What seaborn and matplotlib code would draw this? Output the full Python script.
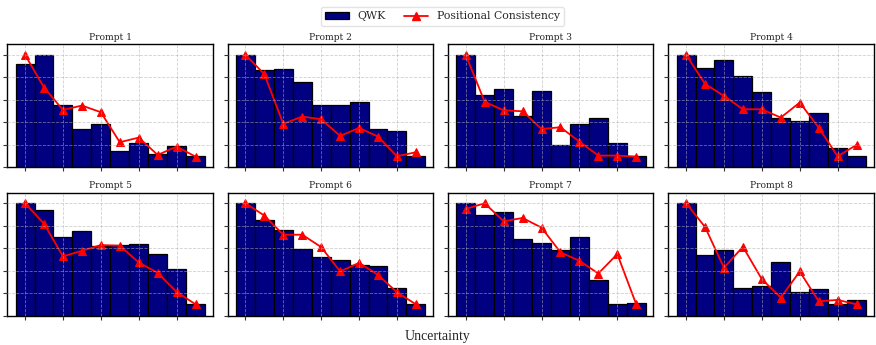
import numpy as np
import pandas as pd
import matplotlib
matplotlib.use("Agg")
import matplotlib.pyplot as plt
from matplotlib.patches import Patch
from matplotlib.lines import Line2D
import seaborn as sns

# Normalised scores per uncertainty bin (10 bins) for each prompt
bins = list(range(10))
prompts = ["Prompt 1", "Prompt 2", "Prompt 3", "Prompt 4",
           "Prompt 5", "Prompt 6", "Prompt 7", "Prompt 8"]

qwk_p1 = [0.917, 1.0, 0.558, 0.338, 0.383, 0.145, 0.217, 0.119, 0.187, 0.098]
qwk_p2 = [1.0, 0.864, 0.878, 0.757, 0.552, 0.558, 0.585, 0.341, 0.323, 0.098]
qwk_p3 = [1.0, 0.647, 0.694, 0.460, 0.682, 0.196, 0.386, 0.436, 0.220, 0.098]
qwk_p4 = [1.0, 0.881, 0.953, 0.816, 0.671, 0.442, 0.412, 0.487, 0.169, 0.098]
qwk_p5 = [1.0, 0.940, 0.702, 0.756, 0.616, 0.631, 0.637, 0.548, 0.411, 0.101]
qwk_p6 = [1.0, 0.848, 0.765, 0.592, 0.521, 0.497, 0.452, 0.443, 0.244, 0.101]
qwk_p7 = [1.0, 0.893, 0.926, 0.679, 0.649, 0.586, 0.696, 0.315, 0.101, 0.110]
qwk_p8 = [1.0, 0.539, 0.586, 0.244, 0.265, 0.479, 0.214, 0.235, 0.101, 0.140]

pc_p1 = [1.0, 0.709, 0.510, 0.549, 0.490, 0.223, 0.264, 0.110, 0.184, 0.095]
pc_p2 = [1.0, 0.828, 0.386, 0.451, 0.427, 0.279, 0.350, 0.273, 0.098, 0.134]
pc_p3 = [1.0, 0.582, 0.507, 0.498, 0.341, 0.356, 0.228, 0.104, 0.104, 0.095]
pc_p4 = [1.0, 0.742, 0.635, 0.516, 0.516, 0.442, 0.576, 0.353, 0.098, 0.199]
pc_p5 = [1.0, 0.818, 0.527, 0.577, 0.628, 0.622, 0.473, 0.381, 0.211, 0.101]
pc_p6 = [1.0, 0.890, 0.720, 0.720, 0.610, 0.393, 0.470, 0.363, 0.208, 0.101]
pc_p7 = [0.949, 1.0, 0.839, 0.869, 0.783, 0.563, 0.488, 0.375, 0.548, 0.101]
pc_p8 = [1.0, 0.789, 0.426, 0.613, 0.324, 0.161, 0.393, 0.128, 0.140, 0.101]

qwk_all = [qwk_p1, qwk_p2, qwk_p3, qwk_p4, qwk_p5, qwk_p6, qwk_p7, qwk_p8]
pc_all = [pc_p1, pc_p2, pc_p3, pc_p4, pc_p5, pc_p6, pc_p7, pc_p8]

sns.set_theme(style="ticks")
plt.rcParams["font.family"] = ["DejaVu Serif"]

BAR_COLOR = "#000080"
LINE_COLOR = "#ff0000"

fig, axes = plt.subplots(2, 4, figsize=(8.76, 3.45), dpi=100)
fig.subplots_adjust(left=0.0085, right=0.9975, top=0.872, bottom=0.085,
                    wspace=0.073, hspace=0.205)

for ax, title, qwk, pc in zip(axes.flat, prompts, qwk_all, pc_all):
    df = pd.DataFrame({"bin": bins, "qwk": qwk, "pc": pc})
    sns.barplot(data=df, x="bin", y="qwk", color=BAR_COLOR, saturation=1,
                width=1.0, edgecolor="black", linewidth=0.9, ax=ax)
    sns.lineplot(data=df, x="bin", y="pc", color=LINE_COLOR, marker="^",
                 markersize=6, markeredgecolor=LINE_COLOR, linewidth=1.3,
                 ax=ax)
    ax.set_title(title, fontsize=6.6, pad=3)
    ax.set_xlabel("")
    ax.set_ylabel("")
    ax.set_xticks([0, 2, 4, 6, 8])
    ax.set_xticklabels([])
    ax.set_yticks(np.arange(0, 1.01, 0.2))
    ax.set_yticklabels([])
    ax.set_xlim(-0.93, 9.91)
    ax.set_ylim(0, 1.095)
    ax.grid(True, linestyle="--", linewidth=0.6, color="#b0b0b0", alpha=0.6)
    ax.set_axisbelow(False)
    for sp in ax.spines.values():
        sp.set_color("black")
        sp.set_linewidth(1.0)
    ax.tick_params(axis="both", length=3, width=0.8, color="#333333")

handles = [Patch(facecolor=BAR_COLOR, edgecolor="black", linewidth=0.9),
           Line2D([0], [0], color=LINE_COLOR, marker="^", markersize=6,
                  linewidth=1.3)]
fig.legend(handles, ["QWK", "Positional Consistency"], loc="upper center",
           bbox_to_anchor=(0.505, 0.995), ncol=2, fontsize=7.8, frameon=True,
           edgecolor="#dddddd", handlelength=2.2, columnspacing=1.7,
           borderpad=0.4)
fig.supxlabel("Uncertainty", fontsize=10, y=0.005, family="Liberation Serif")

fig.savefig("out.png", dpi=100)
